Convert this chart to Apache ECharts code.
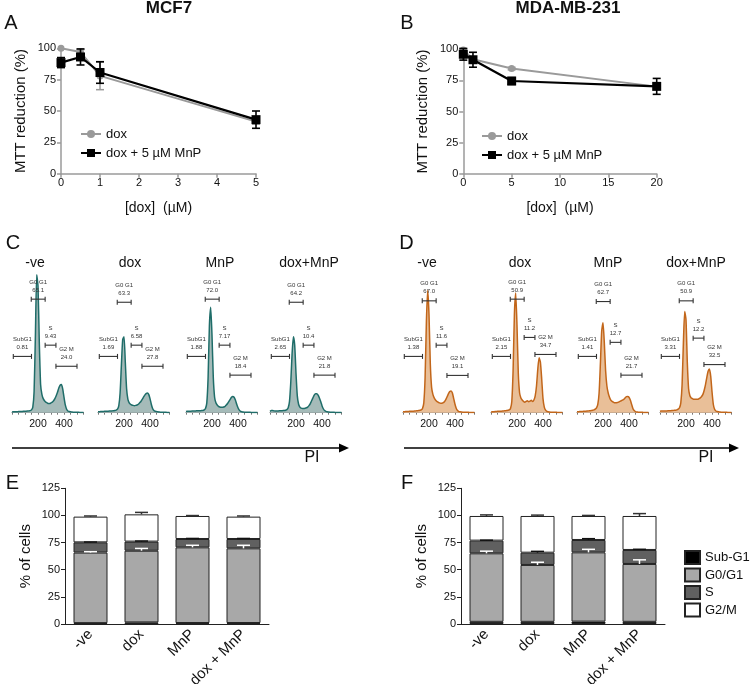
<!DOCTYPE html>
<html><head><meta charset="utf-8">
<script src="https://cdn.jsdelivr.net/npm/echarts@6/dist/echarts.min.js"></script>
<style>html,body{margin:0;padding:0;background:#fff}#c{width:750px;height:684px}</style>
</head><body><div id="c"></div>
<script>
// ================= DATA =================
// Panel A (MCF7 MTT)
const aDose = [0, 0.5, 1, 5];
const aDox = [100, 97, 78, 41.5];
const aDoxErr = [0, 2, 11, 2];
const aDoxMnP = [88.6, 93.1, 80.7, 43.1];
const aDoxMnPErr = [4, 6.4, 8.6, 6.9];
// Panel B (MDA-MB-231 MTT)
const bDose = [0, 1, 5, 20];
const bDox = [99.5, 92, 84.5, 70];
const bDoxErr = [1, 1.5, 1, 2];
const bDoxMnP = [96, 91.6, 74.5, 70.2];
const bDoxMnPErr = [4.7, 6, 2.7, 6.4];
const mttSeriesNames = ['dox', 'dox + 5 µM MnP'];

// Panels C/D (cell-cycle histograms)
const conditions = ['-ve', 'dox', 'MnP', 'dox+MnP'];
const channels = [0,10,20,30,40,50,60,70,80,90,100,110,120,130,140,150,160,170,180,190,200,210,220,230,240,250,260,270,280,290,300,310,320,330,340,350,360,370,380,390,400,410,420,430,440,450,460,470,480,490,500,510,520,530,540,550];
const histTickLabels = [200, 400];
const cNeg = [0.5,0.6,0.6,0.7,0.7,0.8,0.8,0.9,0.9,1.0, 1.0,1.1,1.2,1.3,1.5,2.0,4,15,55,98, 90,50,20,13,10,8.5,7.5,7,6.5,6.5, 7,7.5,8.5,10,12,14.5,17.5,19.5,20,17, 11,5.5,2.5,1.2,0.8,0.6,0.5,0.4,0.4,0.3, 0.3,0.3,0.2,0.2,0.2,0.2];
const cDox = [0.6,0.7,0.8,0.8,0.9,1.0,1.0,1.1,1.1,1.2, 1.2,1.3,1.4,1.5,1.8,2.5,5,14,34,52, 54,36,17,9.5,7,6,5.5,5.2,5,5.2, 5.5,6,7,8,9.5,11,12.5,13.5,14,13, 10,6,3,1.5,1,0.8,0.6,0.5,0.4,0.4, 0.3,0.3,0.3,0.2,0.2,0.2];
const cMnP = [0.8,1.0,1.0,1.1,1.1,1.2,1.2,1.2,1.3,1.3, 1.3,1.4,1.5,1.6,2,3,7,25,62,75, 55,25,11,7,5.5,4.5,4,3.8,3.8,4, 4.5,5.5,6.5,8,9.5,11,11.6,11,9,6, 3.5,1.8,1,0.7,0.5,0.4,0.4,0.3,0.3,0.3, 0.2,0.2,0.2,0.2,0.2,0.2];
const cDoxMnP = [1.0,1.5,1.5,1.3,1.2,1.2,1.2,1.3,1.3,1.4, 1.5,1.6,1.8,2.2,3.5,8,22,42,54,48, 28,12,6,4,3.2,3,3,3.2,3.5,4, 5,6.5,8.5,10.5,12.5,13.5,13.5,12.5,10.5,8, 5,2.8,1.5,0.9,0.6,0.5,0.4,0.3,0.3,0.3, 0.2,0.2,0.2,0.2,0.2,0.2];
const dNeg = [0.6,0.7,0.8,0.8,0.9,1.0,1.0,1.1,1.1,1.2, 1.3,1.4,1.5,1.7,2,3,7,25,65,87, 70,35,18,13,10.5,9,8,7.5,7,6.8, 6.8,7.2,8,9.5,11.5,13.5,15,15.5,14,10, 6,3,1.5,0.8,0.6,0.5,0.4,0.4,0.3,0.3, 0.3,0.2,0.2,0.2,0.2,0.2];
const dDox = [0.5,0.6,0.7,0.8,0.9,1.0,1.0,1.1,1.1,1.2, 1.3,1.4,1.5,1.7,2,3,8,30,70,85, 62,28,14,10.5,9,8,7.5,8,8.5,7.8, 8.2,8.8,8,9,12,19,31,39,36,24, 10,4,1.8,1,0.7,0.5,0.4,0.4,0.3,0.3, 0.3,0.2,0.2,0.2,0.2,0.2];
const dMnP = [0.6,0.7,0.8,0.8,0.9,1.0,1.0,1.1,1.2,1.3, 1.4,1.5,1.7,2,2.5,3.5,6,14,35,58, 64,50,30,19,14,11,9,8,7.5,7, 7,7.2,7.5,8,8.5,9,9.5,10.5,11.5,11.6, 11,9,6,3,1.5,0.8,0.5,0.4,0.3,0.3, 0.3,0.2,0.2,0.2,0.2,0.2];
const dDoxMnP = [1.0,1.2,1.2,1.2,1.2,1.2,1.3,1.3,1.4,1.5, 1.6,1.7,1.8,2,2.5,3.5,7,20,50,72, 66,36,17,12,10.5,10,9.5,9.5,9.5,9.5, 10,10.5,11.5,13,16,20,25,29.5,31,26, 15,6,2.5,1.2,0.8,0.6,0.5,0.4,0.4,0.3, 0.3,0.3,0.2,0.2,0.2,0.2];
const gateNames = ['SubG1', 'G0 G1', 'S', 'G2 M'];
const gateRanges = [[10,150],[148,255],[255,338],[338,500]];
const cGateValues = [['0.81','65.1','9.43','24.0'],['1.69','63.3','6.58','27.8'],['1.88','72.0','7.17','18.4'],['2.65','64.2','10.4','21.8']];
const dGateValues = [['1.38','67.0','11.6','19.1'],['2.15','50.9','11.2','34.7'],['1.41','62.7','12.7','21.7'],['3.31','50.9','12.2','32.5']];
const cGateLevels = [[40,80.7,48,33],[40,78.5,48,33],[40,80.7,48,26.7],[40,78.5,48,26.7]];
const dGateLevels = [[40,79.5,48,26.5],[40,80.7,53.5,41.4],[40,79,50,26.7],[40,79.5,53,34.2]];

// Panels E/F (stacked cell-cycle %)
const barCategories = ['-ve', 'dox', 'MnP', 'dox + MnP'];
const phaseNames = ['Sub-G1', 'G0/G1', 'S', 'G2/M'];
const eSub = [0.8, 1.5, 0.9, 0.9];
const eG0G1 = [65, 66, 69.7, 68.8];
const eS = [9.4, 8.4, 7.7, 8.6];
const eG2M = [23.7, 25.1, 21.2, 20.6];
const eG0G1Err = [0.8, 2.1, 1.9, 2.8];
const eSErr = [0.3, 0.5, 0.5, 0.5];
const eG2MErr = [0.6, 1.8, 0.4, 0.6];
const fSub = [2, 2, 2.2, 2];
const fG0G1 = [63.1, 52.4, 63.8, 53.3];
const fS = [11.7, 11.3, 11.4, 12.9];
const fG2M = [22.7, 33.8, 22.1, 31.3];
const fG0G1Err = [2, 2.5, 2.8, 3.8];
const fSErr = [0.4, 1.2, 1.2, 0.6];
const fG2MErr = [1, 0.8, 0.5, 2.2];

// ================= RENDER =================
const FONT = '"Liberation Sans", Arial, Helvetica, sans-serif';
const chart = echarts.init(document.getElementById('c'), null, {renderer: 'canvas', width: 750, height: 684});
const grids = [], xAxes = [], yAxes = [], series = [], legends = [], graphics = [];

function txt(x, y, text, size, opts) {
  opts = opts || {};
  return {type: 'text', x: x, y: y, silent: true, style: {
    text: text, fontSize: size, fontFamily: FONT, fontWeight: opts.bold ? 'bold' : 'normal',
    fill: opts.color || '#111', align: opts.align || 'center', textAlign: opts.align || 'center',
    verticalAlign: 'middle', textVerticalAlign: 'middle'}};
}

function errRender(color, capW, lw) {
  return function (params, api) {
    const x = api.value(0), y = api.value(1), e = api.value(2);
    if (!e) return null;
    const lo = api.coord([x, y - e]), hi = api.coord([x, y + e]);
    const st = {stroke: color, lineWidth: lw};
    return {type: 'group', children: [
      {type: 'line', shape: {x1: lo[0], y1: lo[1], x2: hi[0], y2: hi[1]}, style: st},
      {type: 'line', shape: {x1: lo[0] - capW / 2, y1: lo[1], x2: lo[0] + capW / 2, y2: lo[1]}, style: st},
      {type: 'line', shape: {x1: hi[0] - capW / 2, y1: hi[1], x2: hi[0] + capW / 2, y2: hi[1]}, style: st}
    ]};
  };
}

const axisGray = '#9a9a9a';
function lineChart(idx, left, top, width, height, xMax, xInt, dose, dox, doxErr, mnp, mnpErr, legLeft, legTop) {
  grids.push({left: left, top: top, width: width, height: height, containLabel: false, outerBoundsMode: 'none'});
  xAxes.push({gridIndex: idx, type: 'value', min: 0, max: xMax, interval: xInt,
    name: '[dox]  (µM)', nameLocation: 'middle', nameGap: 27,
    nameTextStyle: {fontSize: 14, color: '#111', fontFamily: FONT},
    axisLine: {show: true, onZero: false, lineStyle: {color: axisGray, width: 1.5}},
    axisTick: {show: true, length: 4, lineStyle: {color: axisGray, width: 1.5}},
    axisLabel: {fontSize: 11, color: '#111', fontFamily: FONT, margin: 4},
    splitLine: {show: false}});
  yAxes.push({gridIndex: idx, type: 'value', min: 0, max: 100, interval: 25,
    name: 'MTT reduction (%)', nameLocation: 'middle', nameGap: 33,
    nameTextStyle: {fontSize: 15, color: '#111', fontFamily: FONT},
    axisLine: {show: true, onZero: false, lineStyle: {color: axisGray, width: 1.5}},
    axisTick: {show: true, length: 4, lineStyle: {color: axisGray, width: 1.5}},
    axisLabel: {fontSize: 11, color: '#111', fontFamily: FONT, margin: 5},
    splitLine: {show: false}});
  series.push({type: 'custom', xAxisIndex: idx, yAxisIndex: idx, z: 2, silent: true,
    renderItem: errRender('#9a9a9a', 8, 1.5), encode: {x: 0, y: 1},
    data: dose.map((d, i) => [d, dox[i], doxErr[i]])});
  series.push({type: 'line', name: mttSeriesNames[0], xAxisIndex: idx, yAxisIndex: idx, z: 3,
    data: dose.map((d, i) => [d, dox[i]]), symbol: 'circle', symbolSize: 7,
    itemStyle: {color: '#9a9a9a'}, lineStyle: {color: '#9a9a9a', width: 2}});
  series.push({type: 'custom', xAxisIndex: idx, yAxisIndex: idx, z: 4, silent: true,
    renderItem: errRender('#000', 8, 1.6), encode: {x: 0, y: 1},
    data: dose.map((d, i) => [d, mnp[i], mnpErr[i]])});
  series.push({type: 'line', name: mttSeriesNames[1], xAxisIndex: idx, yAxisIndex: idx, z: 5,
    data: dose.map((d, i) => [d, mnp[i]]), symbol: 'rect', symbolSize: 9,
    itemStyle: {color: '#000'}, lineStyle: {color: '#000', width: 2.2}});
  legends.push({left: legLeft, top: legTop, orient: 'vertical', data: mttSeriesNames,
    itemWidth: 20, itemHeight: 10, itemGap: 5, padding: 0,
    textStyle: {fontSize: 13, color: '#111', fontFamily: FONT, lineHeight: 14}});
}

lineChart(0, 61, 48.3, 195, 125.4, 5, 1, aDose, aDox, aDoxErr, aDoxMnP, aDoxMnPErr, 80, 127);
lineChart(1, 463.3, 49.3, 193.4, 124.4, 20, 5, bDose, bDox, bDoxErr, bDoxMnP, bDoxMnPErr, 481, 129);

// Histograms
const cLefts = [12, 98, 186, 270];
const dLefts = [403, 491, 577, 660];
function histo(idx, left, values, lineColor, fillColor, levels, vals) {
  grids.push({left: left, top: 272, width: 71.5, height: 140.7, containLabel: false, outerBoundsMode: 'none'});
  xAxes.push({gridIndex: idx, type: 'value', min: 0, max: 550, interval: 50,
    axisLine: {show: true, onZero: false, lineStyle: {color: '#777', width: 1}},
    axisTick: {show: true, length: 2, lineStyle: {color: '#777', width: 1}},
    axisLabel: {fontSize: 10.5, color: '#111', fontFamily: FONT, margin: 6, hideOverlap: false,
      formatter: v => histTickLabels.indexOf(v) >= 0 ? String(v) : ''},
    splitLine: {show: false}});
  yAxes.push({gridIndex: idx, type: 'value', min: 0, max: 100, show: false});
  series.push({type: 'line', xAxisIndex: idx, yAxisIndex: idx, silent: true, z: 2,
    data: channels.map((c, i) => [c, values[i]]), showSymbol: false, symbol: 'none', smooth: 0.2,
    lineStyle: {color: lineColor, width: 1.5}, areaStyle: {color: fillColor, opacity: 1}});
  series.push({type: 'custom', xAxisIndex: idx, yAxisIndex: idx, silent: true, z: 4,
    encode: {x: [0, 1], y: 2},
    data: gateRanges.map((r, i) => [r[0], r[1], levels[i]]),
    renderItem: function (params, api) {
      const i = params.dataIndex;
      const p0 = api.coord([api.value(0), api.value(2)]);
      const p1 = api.coord([api.value(1), api.value(2)]);
      const cx = (p0[0] + p1[0]) / 2, y = p0[1];
      const st = {stroke: '#333', lineWidth: 1.1};
      const ts = function (t) { return {text: t, fontSize: 6, fontFamily: FONT, fill: '#333',
        align: 'center', textAlign: 'center', verticalAlign: 'middle', textVerticalAlign: 'middle'}; };
      return {type: 'group', children: [
        {type: 'line', shape: {x1: p0[0], y1: y, x2: p1[0], y2: y}, style: st},
        {type: 'line', shape: {x1: p0[0], y1: y - 2.5, x2: p0[0], y2: y + 2.5}, style: st},
        {type: 'line', shape: {x1: p1[0], y1: y - 2.5, x2: p1[0], y2: y + 2.5}, style: st},
        {type: 'text', x: cx, y: y - 17, style: ts(gateNames[i])},
        {type: 'text', x: cx, y: y - 9, style: ts(vals[i])}
      ]};
    }});
}
const cData = [cNeg, cDox, cMnP, cDoxMnP];
const dData = [dNeg, dDox, dMnP, dDoxMnP];
for (let k = 0; k < 4; k++) histo(2 + k, cLefts[k], cData[k], '#1f6d69', '#a5bbb9', cGateLevels[k], cGateValues[k]);
for (let k = 0; k < 4; k++) histo(6 + k, dLefts[k], dData[k], '#c2661a', '#e9bf98', dGateLevels[k], dGateValues[k]);

// Stacked bars
const phaseColors = ['#000000', '#a8a8a8', '#606060', '#ffffff'];
function barChart(idx, left, segs, errs, stackId) {
  grids.push({left: left, top: 488.3, width: 204, height: 135.7, containLabel: false, outerBoundsMode: 'none'});
  xAxes.push({gridIndex: idx, type: 'category', data: barCategories,
    axisLine: {show: true, lineStyle: {color: '#222', width: 1}},
    axisTick: {show: false},
    axisLabel: {rotate: 45, fontSize: 15, color: '#111', fontFamily: FONT, margin: 8, interval: 0}});
  yAxes.push({gridIndex: idx, type: 'value', min: 0, max: 125, interval: 25,
    name: '% of cells', nameLocation: 'middle', nameGap: 32,
    nameTextStyle: {fontSize: 15, color: '#111', fontFamily: FONT},
    axisLine: {show: true, lineStyle: {color: '#222', width: 1}},
    axisTick: {show: true, length: 4, lineStyle: {color: '#222'}},
    axisLabel: {fontSize: 11, color: '#111', fontFamily: FONT, margin: 5},
    splitLine: {show: false}});
  segs.forEach((arr, p) => {
    series.push({type: 'bar', name: phaseNames[p], stack: stackId, xAxisIndex: idx, yAxisIndex: idx,
      barWidth: 34, data: arr, z: 2,
      itemStyle: {color: phaseColors[p], borderColor: '#222', borderWidth: 1}});
  });
  const errColors = ['#ffffff', '#111111', '#333333'];
  const errData = [];
  for (let i = 0; i < barCategories.length; i++) {
    let top = segs[0][i];
    for (let p = 1; p < 4; p++) {
      top += segs[p][i];
      errData.push([i, top, errs[p - 1][i], p - 1]);
    }
  }
  series.push({type: 'custom', xAxisIndex: idx, yAxisIndex: idx, z: 5, silent: true, encode: {x: 0, y: 1},
    data: errData,
    renderItem: function (params, api) {
      const c = errColors[api.value(3)];
      const base = api.coord([api.value(0), api.value(1)]);
      const hi = api.coord([api.value(0), api.value(1) + api.value(2)]);
      const st = {stroke: c, lineWidth: 1.5};
      return {type: 'group', children: [
        {type: 'line', shape: {x1: base[0], y1: base[1], x2: hi[0], y2: hi[1]}, style: st},
        {type: 'line', shape: {x1: hi[0] - 6.5, y1: hi[1], x2: hi[0] + 6.5, y2: hi[1]}, style: st}
      ]};
    }});
}
barChart(10, 65, [eSub, eG0G1, eS, eG2M], [eG0G1Err, eSErr, eG2MErr], 'E');
barChart(11, 461, [fSub, fG0G1, fS, fG2M], [fG0G1Err, fSErr, fG2MErr], 'F');
legends.push({left: 684, top: 550, orient: 'vertical', data: phaseNames, icon: 'rect',
  itemWidth: 15, itemHeight: 13, itemGap: 2.5, padding: 0,
  textStyle: {fontSize: 13, color: '#111', fontFamily: FONT}});

// Text labels & arrows
graphics.push(txt(169, 8, 'MCF7', 17, {bold: true}));
graphics.push(txt(568, 8, 'MDA-MB-231', 17, {bold: true}));
const letters = [['A', 11, 23.5], ['B', 407, 23], ['C', 13, 243.5], ['D', 406.5, 243], ['E', 12.5, 483.5], ['F', 407, 483]];
letters.forEach(l => graphics.push(txt(l[1], l[2], l[0], 20)));
const cTitleX = [35, 130, 220, 309], dTitleX = [427, 520, 608, 696];
conditions.forEach((t, i) => { graphics.push(txt(cTitleX[i], 263, t, 14)); graphics.push(txt(dTitleX[i], 263, t, 14)); });
[[12, 349], [404, 739]].forEach(a => {
  graphics.push({type: 'line', silent: true, shape: {x1: a[0], y1: 448, x2: a[1] - 6, y2: 448}, style: {stroke: '#000', lineWidth: 1.5}});
  graphics.push({type: 'polygon', silent: true, shape: {points: [[a[1] - 10, 443.5], [a[1], 448], [a[1] - 10, 452.5]]}, style: {fill: '#000'}});
});
graphics.push(txt(312, 458, 'PI', 16));
graphics.push(txt(706, 458, 'PI', 16));

chart.setOption({
  animation: false,
  backgroundColor: '#fff',
  textStyle: {fontFamily: FONT},
  grid: grids, xAxis: xAxes, yAxis: yAxes, series: series, legend: legends,
  graphic: {elements: graphics}
});
</script></body></html>
